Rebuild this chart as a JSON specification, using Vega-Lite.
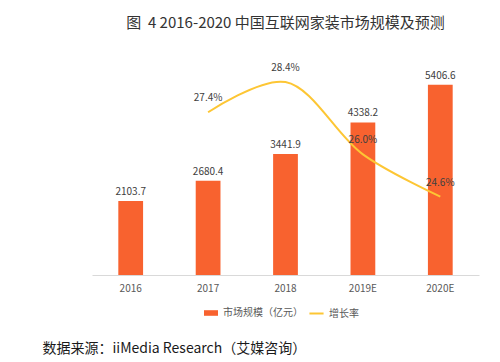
{
  "$schema": "https://vega.github.io/schema/vega-lite/v6.json",
  "width": 387,
  "height": 211,
  "autosize": {"type": "none"},
  "padding": {"left": 92, "top": 64, "right": 21, "bottom": 87},
  "background": "white",
  "config": {
    "view": {"stroke": null},
    "font": "Noto Sans CJK SC"
  },
  "title": {
    "text": "图\u00a0\u00a04 2016-2020 中国互联网家装市场规模及预测",
    "fontSize": 15,
    "fontWeight": "normal",
    "color": "#333333",
    "anchor": "middle",
    "offset": 32
  },
  "data": {
    "values": [
      {"year": "2016", "size": 2103.7, "growth": null},
      {"year": "2017", "size": 2680.4, "growth": 0.274},
      {"year": "2018", "size": 3441.9, "growth": 0.284},
      {"year": "2019E", "size": 4338.2, "growth": 0.260},
      {"year": "2020E", "size": 5406.6, "growth": 0.246}
    ]
  },
  "encoding": {
    "x": {
      "field": "year",
      "type": "ordinal",
      "sort": null,
      "scale": {"paddingInner": 0.68, "paddingOuter": 0.34},
      "axis": {
        "title": "数据来源：iiMedia Research（艾媒咨询）",
        "titleFontSize": 14,
        "titleFontWeight": "normal",
        "titleColor": "#1a1a1a",
        "titleAnchor": "start",
        "titleAlign": "left",
        "titleBaseline": "middle",
        "titleX": -50,
        "titleY": 73,
        "labelAngle": 0,
        "labelFontSize": 10,
        "labelColor": "#595959",
        "labelPadding": 8,
        "ticks": false,
        "domainColor": "#d9d9d9",
        "grid": false
      }
    }
  },
  "layer": [
    {
      "mark": {"type": "bar", "color": "#F8622F"},
      "encoding": {
        "y": {"field": "size", "type": "quantitative", "scale": {"domain": [0, 6000]}, "axis": null},
        "color": {
          "datum": "市场规模（亿元）",
          "scale": {"range": ["#F8622F"]},
          "legend": {
            "title": null,
            "orient": "none",
            "legendX": 111,
            "legendY": 241,
            "symbolType": "M-1,-0.4H1V0.4H-1Z",
            "symbolSize": 196,
            "labelFontSize": 10,
            "labelColor": "#595959"
          }
        }
      }
    },
    {
      "mark": {"type": "text", "dy": -9, "fontSize": 10, "color": "#404040"},
      "encoding": {
        "y": {"field": "size", "type": "quantitative", "scale": {"domain": [0, 6000]}, "axis": null},
        "text": {"field": "size", "type": "quantitative", "format": ".1f"}
      }
    },
    {
      "transform": [{"filter": "datum.growth != null"}],
      "layer": [
        {
          "mark": {"type": "line", "interpolate": "catmull-rom", "strokeWidth": 2},
          "encoding": {
            "y": {"field": "growth", "type": "quantitative", "scale": {"domain": [0.22, 0.29]}, "axis": null},
            "stroke": {
              "datum": "增长率",
              "scale": {"range": ["#FDC634"]},
              "legend": {
                "title": null,
                "orient": "none",
                "legendX": 216,
                "legendY": 241,
                "symbolType": "stroke",
                "symbolSize": 200,
                "symbolStrokeWidth": 2,
                "labelFontSize": 10,
                "labelColor": "#595959"
              }
            }
          }
        },
        {
          "mark": {"type": "text", "dy": -14, "fontSize": 10, "color": "#404040"},
          "encoding": {
            "y": {"field": "growth", "type": "quantitative", "scale": {"domain": [0.22, 0.29]}, "axis": null},
            "text": {"field": "growth", "type": "quantitative", "format": ".1%"}
          }
        }
      ]
    }
  ],
  "resolve": {"scale": {"y": "independent"}}
}
